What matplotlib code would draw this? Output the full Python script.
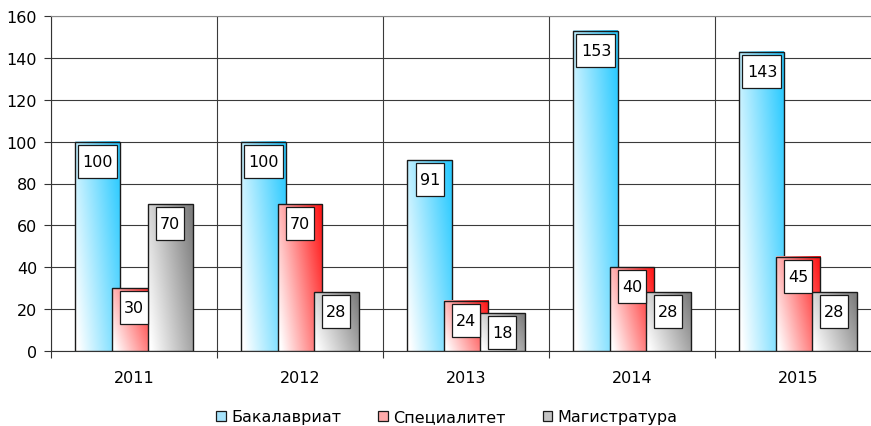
import matplotlib as mpl
import matplotlib.pyplot as plt
import numpy as np
from matplotlib.colors import LinearSegmentedColormap
from matplotlib.patches import Rectangle

years = ["2011", "2012", "2013", "2014", "2015"]
series = ["Бакалавриат", "Специалитет", "Магистратура"]
bachelor = [100, 100, 91, 153, 143]
specialist = [30, 70, 24, 40, 45]
master = [70, 28, 18, 28, 28]

colors = ["#2ecbff", "#ff1a1a", "#7f7f7f"]
legend_colors = ["#a6e3fb", "#ffaaaa", "#c4c4c4"]

plt.rcParams['font.family'] = ['DejaVu Sans']
fs = 11.5

fig = plt.figure(figsize=(8.71, 4.27), dpi=100)
W, H = 871, 427
ax = fig.add_axes([51 / W, 75 / H, 830 / W, 335 / H])

x = np.arange(len(years))
width = 0.271
step = 0.217

# gradient: white at bottom-left, full colour at top-right
gx, gy = np.meshgrid(np.linspace(0, 1, 60), np.linspace(0, 1, 60))
grad = np.clip(0.75 * gx + 0.35 * gy - 0.05, 0, 1)

for i, (vals, c) in enumerate(zip([bachelor, specialist, master], colors)):
    cmap = LinearSegmentedColormap.from_list("g%d" % i, ["#ffffff", c])
    bars = ax.bar(x + (i - 1) * step, vals, width, facecolor="none",
                  edgecolor="#1a1a1a", linewidth=1.0, zorder=3 + i + 0.5)
    for b, v in zip(bars, vals):
        x0, w, h = b.get_x(), b.get_width(), b.get_height()
        ax.imshow(grad, cmap=cmap, extent=[x0, x0 + w, 0, h], origin="lower",
                  aspect="auto", zorder=3 + i, interpolation="bilinear")
        # value label box
        s = str(v)
        bw = (11 * len(s) + 6) / 166
        bh = 33 * 160 / 335
        top = h - 3 * 160 / 335
        ax.add_patch(Rectangle((x0 + w / 2 - bw / 2, top - bh), bw, bh,
                               facecolor="white", edgecolor="#1a1a1a",
                               linewidth=0.9, zorder=10))
        ax.text(x0 + w / 2, top - bh / 2, s, ha="center", va="center",
                fontsize=fs, zorder=11)

ax.set_xlim(-0.5, 4.5)
ax.set_ylim(0, 160)
ax.set_yticks(np.arange(0, 161, 20))
ax.set_xticks(np.arange(-0.5, 5, 1))
ax.set_xticklabels([])
ax.set_xticks(x, minor=True)
ax.set_xticklabels(years, minor=True)
ax.tick_params(axis="x", which="minor", length=0, pad=14, labelsize=fs)
ax.tick_params(axis="x", which="major", length=5, direction="out", color="#333333")
ax.tick_params(axis="y", length=5, direction="out", pad=5, labelsize=fs, color="#333333")
ax.grid(True, which="major", color="#3a3a3a", linewidth=0.8, zorder=0)
ax.set_axisbelow(True)
ax.spines["right"].set_visible(False)
ax.spines["top"].set_color("#888888")
ax.spines["left"].set_color("#333333")
ax.spines["bottom"].set_color("#333333")

handles = [Rectangle((0, 0), 1, 1, facecolor=c, edgecolor="#1a1a1a", linewidth=0.9)
           for c in legend_colors]
fig.legend(handles, series, loc="center", bbox_to_anchor=(447 / W, 9 / H), ncol=3,
           frameon=False, fontsize=fs, handlelength=0.6, handleheight=0.6,
           handletextpad=0.35, columnspacing=2.3)

fig.savefig("out.png", dpi=100)
